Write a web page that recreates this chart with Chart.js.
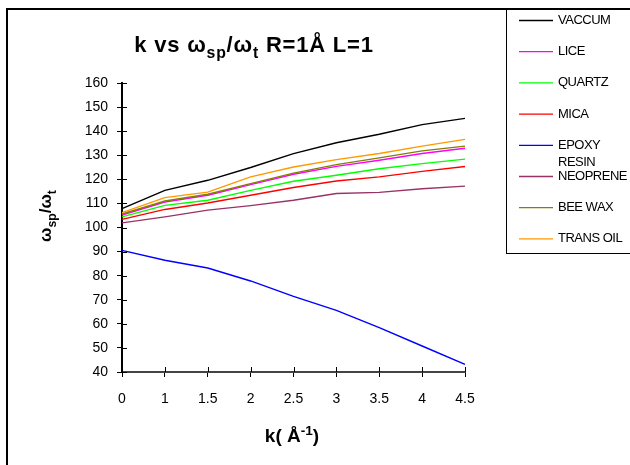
<!DOCTYPE html>
<html>
<head>
<meta charset="utf-8">
<script src="https://cdn.jsdelivr.net/npm/chart.js@4.4.1/dist/chart.umd.min.js"></script>
<style>
  html, body { margin: 0; padding: 0; background: #fff; }
  #wrap { width: 630px; height: 465px; }
</style>
</head>
<body>
<div id="wrap"><canvas id="chart" width="630" height="465"></canvas></div>
<script>
// k values (category axis, equally spaced like the original)
const kLabels = ['0', '1', '1.5', '2', '2.5', '3', '3.5', '4', '4.5'];

// wsp/wt
const vaccum   = [107.8, 115.4, 119.6, 124.9, 130.7, 135.2, 138.7, 142.7, 145.3];
const lice     = [105.2, 110.6, 113.4, 117.8, 122.1, 125.4, 127.9, 130.7, 132.9];
const quartz   = [104.4, 109.2, 111.3, 115.4, 119.2, 121.7, 124.4, 126.5, 128.4];
const mica     = [103.4, 107.5, 110.2, 113.4, 116.6, 119.3, 121.0, 123.3, 125.3];
const epoxy    = [90.5, 86.4, 83.2, 77.8, 71.4, 65.6, 58.4, 50.8, 43.2];
const neoprene = [101.9, 104.4, 107.2, 109.1, 111.3, 114.1, 114.6, 116.1, 117.2];
const beeWax   = [105.6, 111.0, 113.8, 118.2, 122.6, 126.1, 128.9, 131.8, 133.8];
const transOil = [106.2, 112.4, 114.7, 121.0, 125.1, 128.2, 130.7, 133.8, 136.6];

const seriesNames  = ['VACCUM', 'LICE', 'QUARTZ', 'MICA', 'EPOXY\nRESIN', 'NEOPRENE', 'BEE WAX', 'TRANS OIL'];
const seriesData   = [vaccum, lice, quartz, mica, epoxy, neoprene, beeWax, transOil];
const seriesColors = ['#000000', '#FF00FF', '#00FF00', '#FF0000', '#0000FF', '#993366', '#808000', '#FF9900'];

const FONT = '"Liberation Sans", Arial, sans-serif';

// draws text pieces with sub/superscripts, returns width
function richText(ctx, parts, x, y, size, measureOnly) {
    let w = 0;
    parts.forEach(p => {
        const s = p.sub || p.sup ? size * 0.72 : size;
        ctx.font = 'bold ' + s + 'px ' + FONT;
        const dy = p.sub ? size * 0.28 : (p.sup ? -size * 0.38 : 0);
        if (!measureOnly) ctx.fillText(p.t, x + w, y + dy);
        w += ctx.measureText(p.t).width;
    });
    return w;
}

const decor = {
    id: 'decor',
    beforeDraw(chart) {
        const ctx = chart.ctx;
        ctx.save();
        ctx.fillStyle = '#fff';
        ctx.fillRect(0, 0, chart.width, chart.height);
        ctx.restore();
    },
    afterDraw(chart) {
        const ctx = chart.ctx;
        const xs = chart.scales.x, ys = chart.scales.y;
        ctx.save();

        // outer frame (runs off the right and bottom edge)
        ctx.strokeStyle = '#000';
        ctx.lineWidth = 2;
        ctx.beginPath();
        ctx.moveTo(7, 470);
        ctx.lineTo(7, 9);
        ctx.lineTo(640, 9);
        ctx.stroke();

        // inner half of the tick marks
        ctx.lineWidth = 1;
        ctx.strokeStyle = '#000';
        ys.ticks.forEach(t => {
            const y = Math.round(ys.getPixelForValue(t.value)) + 0.5;
            ctx.beginPath();
            ctx.moveTo(xs.left, y);
            ctx.lineTo(xs.left + 5, y);
            ctx.stroke();
        });
        xs.ticks.forEach((t, i) => {
            const x = Math.round(xs.getPixelForTick(i)) + 0.5;
            ctx.beginPath();
            ctx.moveTo(x, ys.bottom);
            ctx.lineTo(x, ys.bottom - 5);
            ctx.stroke();
        });

        // legend box
        ctx.strokeRect(506.5, 9.5, 140, 244);
        ctx.font = '13px ' + FONT;
        ctx.letterSpacing = '-0.5px';
        ctx.textBaseline = 'middle';
        ctx.fillStyle = '#000';
        chart.data.datasets.forEach((ds, i) => {
            const y = 20.5 + i * 31.2;
            ctx.strokeStyle = ds.borderColor;
            ctx.lineWidth = 1.3;
            ctx.beginPath();
            ctx.moveTo(519, y);
            ctx.lineTo(553, y);
            ctx.stroke();
            const lines = seriesNames[i].split('\n');
            lines.forEach((l, j) => ctx.fillText(l, 558, y + j * 17.5));
        });

        // title
        ctx.fillStyle = '#000';
        ctx.textBaseline = 'alphabetic';
        ctx.letterSpacing = '0.8px';
        const title = [{t: 'k vs \u03C9'}, {t: 'sp', sub: true}, {t: '/\u03C9'}, {t: 't', sub: true}, {t: ' R=1\u00C5 L=1'}];
        const tw = richText(ctx, title, 0, 0, 22, true);
        richText(ctx, title, 254 - tw / 2, 52, 22);
        ctx.letterSpacing = '0px';

        // x axis title
        const xt = [{t: 'k( \u00C5'}, {t: '-1', sup: true}, {t: ')'}];
        const xw = richText(ctx, xt, 0, 0, 19, true);
        richText(ctx, xt, 292 - xw / 2, 442, 19);

        // y axis title
        const yt = [{t: '\u03C9'}, {t: 'sp', sub: true}, {t: '/\u03C9'}, {t: 't', sub: true}];
        const yw = richText(ctx, yt, 0, 0, 17, true);
        ctx.translate(51, 216);
        ctx.rotate(-Math.PI / 2);
        richText(ctx, yt, -yw / 2, 0, 17);

        ctx.restore();
    }
};

const datasets = seriesData.map((d, i) => ({
    label: seriesNames[i],
    data: d,
    borderColor: seriesColors[i],
    backgroundColor: seriesColors[i],
    borderWidth: 1.4,
    pointRadius: 0,
    fill: false,
    tension: 0,
    order: seriesData.length - i
}));

new Chart(document.getElementById('chart'), {
    type: 'line',
    data: { labels: kLabels, datasets: datasets },
    options: {
        responsive: false,
        animation: false,
        events: [],
        layout: { padding: { left: 0, top: 83, right: 165, bottom: 0 } },
        plugins: {
            legend: { display: false },
            title: { display: false },
            tooltip: { enabled: false }
        },
        scales: {
            x: {
                type: 'category',
                offset: false,
                afterFit(scale) { scale.height = 93; },
                grid: { display: true, drawOnChartArea: false, drawTicks: true, tickLength: 5, color: '#000' },
                border: { display: true, color: '#444', width: 2 },
                ticks: { color: '#000', font: { family: FONT, size: 14 }, padding: 14, maxRotation: 0, autoSkip: false }
            },
            y: {
                min: 40,
                max: 160,
                afterFit(scale) { scale.width = 122; },
                grid: { display: true, drawOnChartArea: false, drawTicks: true, tickLength: 5, color: '#000' },
                border: { display: true, color: '#000', width: 2 },
                ticks: { stepSize: 10, color: '#000', font: { family: FONT, size: 14 }, padding: 9 }
            }
        }
    },
    plugins: [decor]
});
</script>
</body>
</html>
